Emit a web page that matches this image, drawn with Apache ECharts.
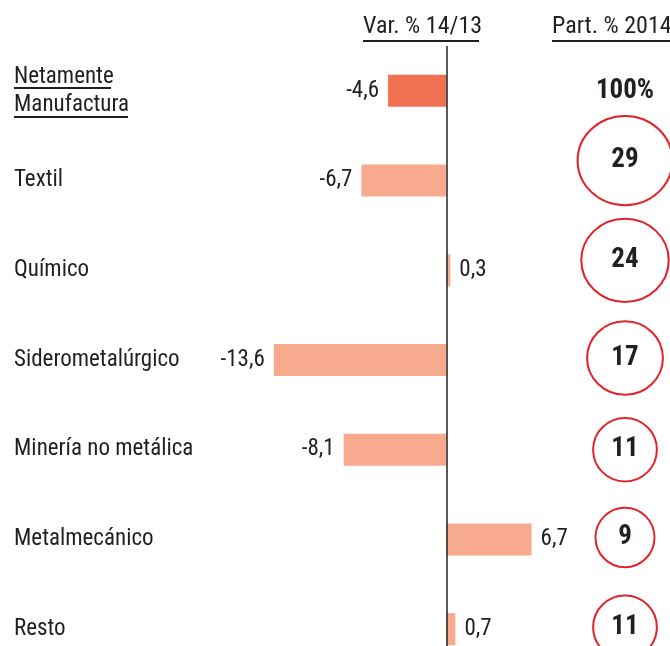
<!DOCTYPE html>
<html>
<head>
<meta charset="utf-8">
<script src="https://cdn.jsdelivr.net/npm/echarts@6/dist/echarts.min.js"></script>
<style>
    html, body { margin: 0; padding: 0; background: #fff; }
    #chart { width: 670px; height: 646px; }
</style>
</head>
<body>
<div id="chart"></div>
<script>
// data
var categories = ['Netamente\nManufactura', 'Textil', 'Químico', 'Siderometalúrgico',
    'Minería no metálica', 'Metalmecánico', 'Resto'];
var variation = [-4.6, -6.7, 0.3, -13.6, -8.1, 6.7, 0.7];
var participation = [100, 29, 24, 17, 11, 9, 11];
var headers = ['Var. % 14/13', 'Part. % 2014'];

var FONT = '"Roboto Condensed", "DejaVu Sans Condensed", sans-serif';
var TXT = '#231f20';
var circleShift = [0, -20, -10, -2, 0, -2, -2];

function createVarChart(id) {
    var chart = echarts.init(document.getElementById(id));

    var barData = [];
    for (var i = 0; i < variation.length; i++) {
        barData.push({
            value: variation[i],
            label: {position: variation[i] < 0 ? 'left' : 'right'}
        });
    }

    var partData = [];
    for (var j = 0; j < participation.length; j++) {
        partData.push({
            value: [0, j, participation[j]],
            symbolOffset: [0, circleShift[j]]
        });
    }

    var option = {
        animation: false,
        textStyle: {fontFamily: FONT},
        grid: [
            {left: 2, width: 635, top: 46, height: 628, outerBoundsMode: 'none'},
            {left: 580, width: 90, top: 46, height: 628, outerBoundsMode: 'none'}
        ],
        xAxis: [
            {type: 'value', gridIndex: 0, min: -35, max: 15, show: false},
            {type: 'category', gridIndex: 1, data: [headers[1]], show: false}
        ],
        yAxis: [
            {
                type: 'category',
                gridIndex: 0,
                inverse: true,
                data: categories,
                axisLine: {show: false},
                axisTick: {show: false},
                axisLabel: {
                    inside: true,
                    margin: 12,
                    fontSize: 23,
                    lineHeight: 28,
                    color: TXT,
                    fontFamily: FONT
                }
            },
            {type: 'category', gridIndex: 1, inverse: true, data: categories, show: false}
        ],
        series: [
            {
                name: headers[0],
                type: 'bar',
                xAxisIndex: 0,
                yAxisIndex: 0,
                barWidth: 32,
                data: barData,
                itemStyle: {
                    color: function (p) {
                        return p.dataIndex === 0 ? '#f07252' : '#f8aa8e';
                    }
                },
                label: {
                    show: true,
                    distance: 9,
                    fontSize: 23,
                    color: TXT,
                    fontFamily: FONT,
                    formatter: function (p) {
                        return p.value.toFixed(1).replace('.', ',');
                    }
                },
                markLine: {
                    silent: true,
                    symbol: 'none',
                    label: {show: false},
                    lineStyle: {color: '#222', width: 1.5, type: 'solid'},
                    data: [{xAxis: 0}]
                }
            },
            {
                name: headers[1],
                type: 'scatter',
                xAxisIndex: 1,
                yAxisIndex: 1,
                data: partData,
                symbol: 'circle',
                symbolSize: function (val, p) {
                    if (p.dataIndex === 0) {
                        return 0;
                    }
                    var r = Math.sqrt(val[2]);
                    return [14 + 15 * r, 22 + 12.5 * r];
                },
                itemStyle: {
                    color: 'rgba(255,255,255,0)',
                    borderColor: '#e3232b',
                    borderWidth: 2,
                    opacity: 1
                },
                label: {
                    show: true,
                    position: 'inside',
                    fontSize: 27,
                    fontWeight: 'bold',
                    color: TXT,
                    fontFamily: FONT,
                    formatter: function (p) {
                        return p.dataIndex === 0 ? p.value[2] + '%' : String(p.value[2]);
                    }
                }
            }
        ],
        graphic: [
            {type: 'text', left: 363, top: 15,
                style: {text: headers[0], font: '24px ' + FONT, fill: TXT}},
            {type: 'line', shape: {x1: 363, y1: 41, x2: 479, y2: 41}, style: {stroke: TXT, lineWidth: 2}},
            {type: 'text', left: 552, top: 15,
                style: {text: headers[1], font: '24px ' + FONT, fill: TXT}},
            {type: 'line', shape: {x1: 552, y1: 41, x2: 670, y2: 41}, style: {stroke: TXT, lineWidth: 2}},
            // underline of the first category
            {type: 'line', shape: {x1: 14, y1: 88, x2: 111, y2: 88}, style: {stroke: TXT, lineWidth: 2}},
            {type: 'line', shape: {x1: 14, y1: 117, x2: 128, y2: 117}, style: {stroke: TXT, lineWidth: 2}}
        ]
    };

    chart.setOption(option);
    return chart;
}

createVarChart('chart');
</script>
</body>
</html>
